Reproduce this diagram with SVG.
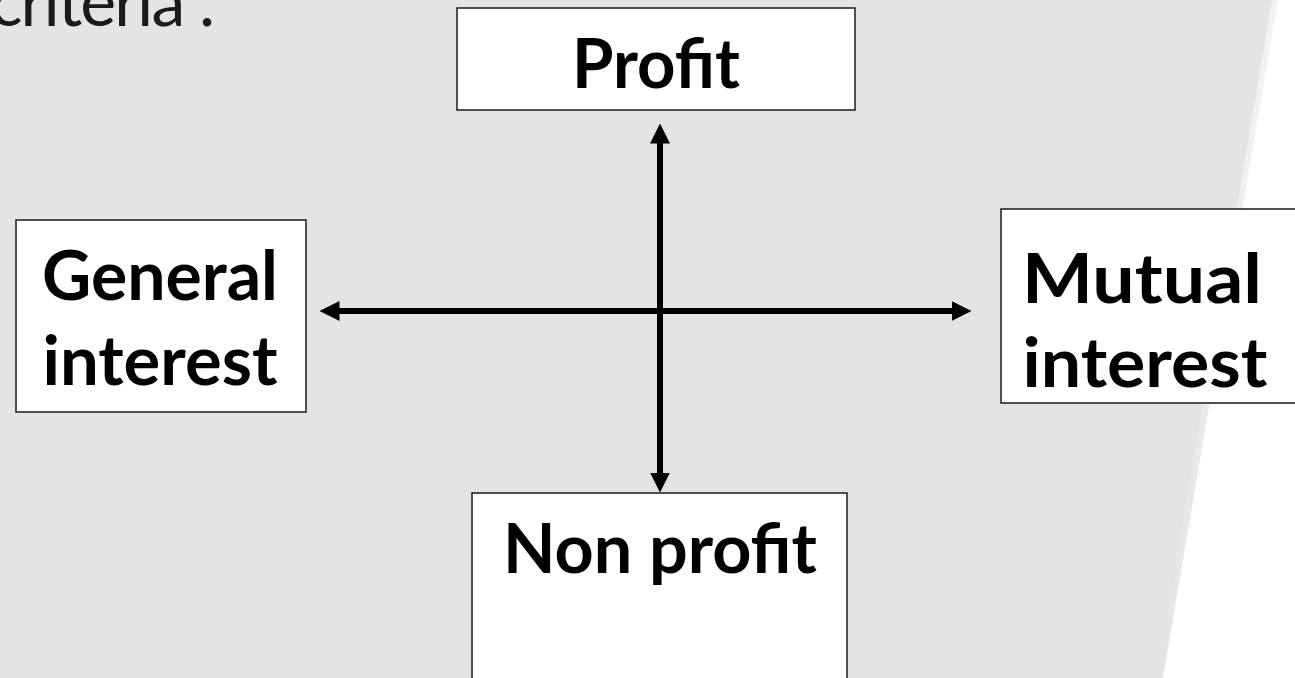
<svg xmlns="http://www.w3.org/2000/svg" width="1295" height="678" viewBox="0 0 1295 678">
  <style>
    .box { fill: #ffffff; stroke: #1a1a1a; stroke-width: 1.5; }
    .lbl { font-family: Lato, "Open Sans", "Liberation Sans", sans-serif; font-weight: bold; font-size: 68px; fill: #000; text-anchor: middle; }
    .conn { stroke: #000; stroke-width: 6; fill: none; }
    .title { font-family: Lato, "Liberation Sans", sans-serif; font-weight: 400; font-size: 68px; fill: #1a1a1a; }
  </style>
  <defs>
    <marker id="ah" viewBox="0 0 20 20" refX="0.5" refY="10" markerWidth="20" markerHeight="20" markerUnits="userSpaceOnUse" orient="auto-start-reverse">
      <path d="M0,0 L20,10 L0,20 Z" fill="#000"/>
    </marker>
    <linearGradient id="edge" x1="0" y1="0" x2="1" y2="0">
      <stop offset="0" stop-color="#e4e4e4"/>
      <stop offset="1" stop-color="#ffffff"/>
    </linearGradient>
  </defs>
  <rect x="0" y="0" width="1295" height="678" fill="#e4e4e4"/>
  <polygon points="1272,0 1282,0 1167,678 1157,678" fill="url(#edge)" opacity="0.6"/>
  <polygon points="1278,0 1295,0 1295,678 1163,678" fill="#ffffff"/>

  <text class="title" x="-10" y="26" textLength="225" lengthAdjust="spacing">criteria .</text>

  <g id="connectors">
    <line class="conn" x1="660" y1="143" x2="660" y2="473" marker-start="url(#ah)" marker-end="url(#ah)"/>
    <line class="conn" x1="339" y1="311" x2="952" y2="311" marker-start="url(#ah)" marker-end="url(#ah)"/>
  </g>

  <g id="profit">
    <rect class="box" x="457" y="8" width="398" height="102"/>
    <text class="lbl" x="656" y="88" textLength="168" lengthAdjust="spacingAndGlyphs">Profit</text>
  </g>
  <g id="general-interest">
    <rect class="box" x="16" y="220" width="290" height="192"/>
    <text class="lbl" x="160" y="300" textLength="236" lengthAdjust="spacingAndGlyphs">General</text>
    <text class="lbl" x="160" y="385" textLength="235" lengthAdjust="spacingAndGlyphs">interest</text>
  </g>
  <g id="mutual-interest">
    <rect class="box" x="1001" y="209" width="300" height="194"/>
    <text class="lbl" x="1142" y="303" textLength="240" lengthAdjust="spacingAndGlyphs">Mutual</text>
    <text class="lbl" x="1145" y="387" textLength="245" lengthAdjust="spacingAndGlyphs">interest</text>
  </g>
  <g id="non-profit">
    <rect class="box" x="472" y="493" width="375" height="200"/>
    <text class="lbl" x="660" y="573" textLength="314" lengthAdjust="spacingAndGlyphs">Non profit</text>
  </g>
</svg>
